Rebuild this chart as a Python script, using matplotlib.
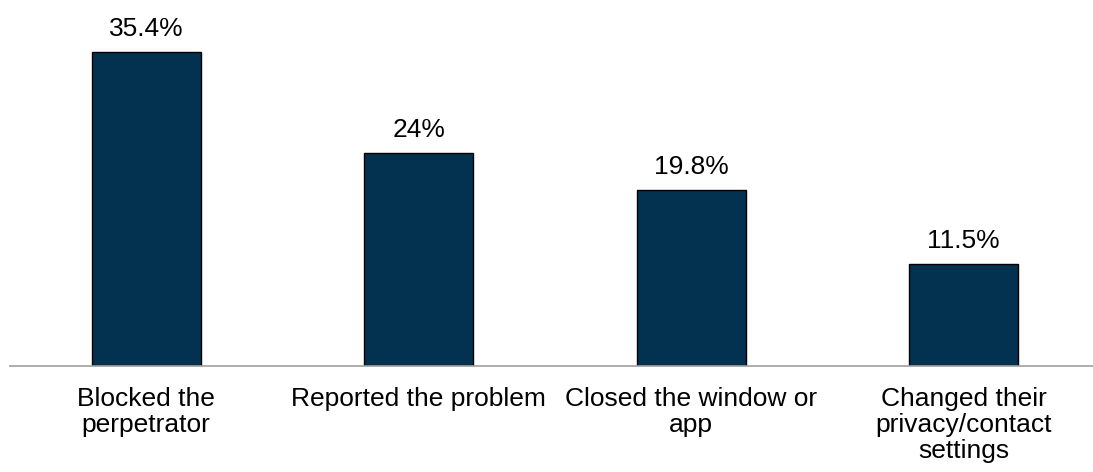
import matplotlib.pyplot as plt

plt.rcParams['font.family'] = ['Liberation Sans', 'DejaVu Sans']

categories = ['Blocked the\nperpetrator', 'Reported the problem',
              'Closed the window or\napp', 'Changed their\nprivacy/contact\nsettings']
values = [35.4, 24, 19.8, 11.5]
labels = ['35.4%', '24%', '19.8%', '11.5%']

fig = plt.figure(figsize=(10.93, 4.72), dpi=100)
ax = fig.add_axes([10 / 1093, 106 / 472, 1090 / 1093, 366 / 472])

x = range(len(values))
bars = ax.bar(x, values, width=0.4, color='#02324f', edgecolor='black', linewidth=1.0)

for b, lab in zip(bars, labels):
    ax.annotate(lab, (b.get_x() + b.get_width() / 2, b.get_height()),
                xytext=(0, 8), textcoords='offset points',
                ha='center', va='bottom', fontsize=19, color='black')

ax.set_xlim(-0.5, 3.5)
ax.set_ylim(0, 41.26)
ax.set_xticks(list(x))
ax.set_xticklabels(categories, fontsize=19, linespacing=1.12, va='top')
ax.tick_params(axis='x', length=0, pad=15)
ax.set_yticks([])

for s in ['top', 'right', 'left']:
    ax.spines[s].set_visible(False)
ax.spines['bottom'].set_color('#a0a0a0')
ax.spines['bottom'].set_linewidth(1.2)

fig.savefig('out.png', dpi=100)
